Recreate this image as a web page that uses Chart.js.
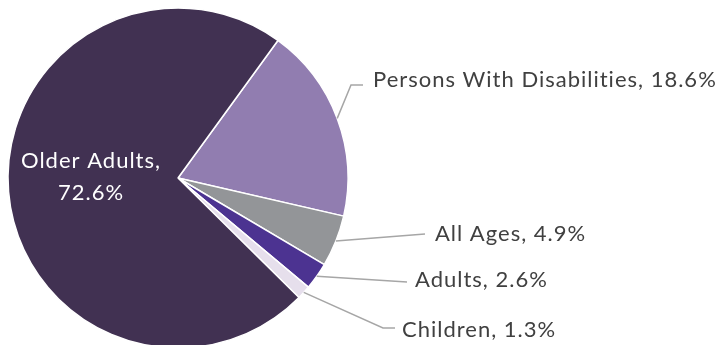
<!DOCTYPE html>
<html>
<head>
<meta charset="utf-8">
<script src="https://cdn.jsdelivr.net/npm/chart.js@4.4.1/dist/chart.umd.min.js"></script>
<style>
    html, body { margin: 0; padding: 0; background: #fff; overflow: hidden; }
    #wrap { width: 720px; height: 356px; }
</style>
</head>
<body>
<div id="wrap"><canvas id="groups"></canvas></div>
<script>
// Groups served, share of total (%)
var categories = ['Persons With Disabilities', 'All Ages', 'Adults', 'Children', 'Older Adults'];
var shares = [18.6, 4.9, 2.6, 1.3, 72.6];
var colors = ['#917db0', '#939598', '#4c3391', '#e6dfec', '#413152'];

// where each label sits: leader line points (after the edge point) and text baseline start
var labelLayout = [
    { path: [[351, 85], [363, 85]], text: [373, 87], align: 'left' },
    { path: [[425, 234]], text: [435, 241], align: 'left' },
    { path: [[407, 282]], text: [415, 287], align: 'left' },
    { path: [[383, 328], [395, 328]], text: [402, 337], align: 'left' },
    { inside: true, text: [91, 168], align: 'center' }
];

var labelFont = '22px Lato';

var leaderLabels = {
    id: 'leaderLabels',
    afterDatasetsDraw: function (chart) {
        var ctx = chart.ctx;
        var meta = chart.getDatasetMeta(0);
        ctx.save();
        ctx.font = labelFont;
        ctx.letterSpacing = '1px';
        meta.data.forEach(function (arc, i) {
            var lay = labelLayout[i];
            var pct = shares[i].toFixed(1) + '%';
            if (lay.inside) {
                ctx.fillStyle = '#ffffff';
                ctx.textAlign = 'center';
                ctx.fillText(categories[i] + ',', lay.text[0], lay.text[1]);
                ctx.fillText(pct, lay.text[0], lay.text[1] + 32);
                return;
            }
            var mid = (arc.startAngle + arc.endAngle) / 2;
            ctx.strokeStyle = '#a6a6a6';
            ctx.lineWidth = 1.5;
            ctx.beginPath();
            ctx.moveTo(arc.x + Math.cos(mid) * arc.outerRadius, arc.y + Math.sin(mid) * arc.outerRadius);
            lay.path.forEach(function (p) { ctx.lineTo(p[0], p[1]); });
            ctx.stroke();
            ctx.fillStyle = '#404040';
            ctx.textAlign = lay.align;
            ctx.fillText(categories[i] + ', ' + pct, lay.text[0], lay.text[1]);
        });
        ctx.restore();
    }
};

var groups = document.getElementById('groups').getContext('2d');

new Chart(groups, {
    type: 'pie',
    data: {
        labels: categories,
        datasets: [{
            data: shares,
            backgroundColor: colors,
            borderColor: '#ffffff',
            borderWidth: 1.5,
            hoverOffset: 0
        }]
    },
    options: {
        responsive: true,
        maintainAspectRatio: false,
        animation: false,
        rotation: 36,
        radius: 170,
        layout: {
            padding: { left: 0, right: 364, top: 0, bottom: 0 }
        },
        plugins: {
            legend: { display: false },
            tooltip: { enabled: false }
        },
        events: []
    },
    plugins: [leaderLabels]
});
</script>
</body>
</html>
